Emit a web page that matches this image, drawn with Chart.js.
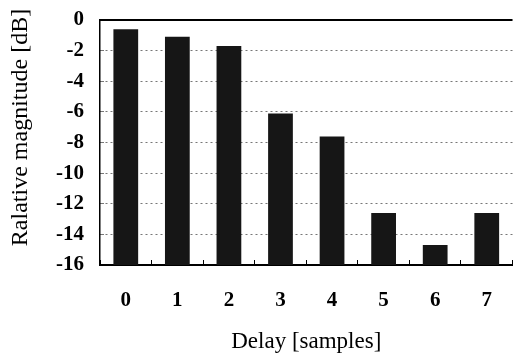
<!DOCTYPE html>
<html>
<head>
<meta charset="utf-8">
<script src="https://cdn.jsdelivr.net/npm/chart.js@4/dist/chart.umd.min.js"></script>
<style>
    html, body { margin: 0; padding: 0; background: #fff; overflow: hidden; }
    #wrap { width: 520px; height: 356px; }
</style>
</head>
<body>
<div id="wrap"><canvas id="myChart" width="520" height="356"></canvas></div>
<script>
'use strict';

// delay in samples
var delayLabels = ['0', '1', '2', '3', '4', '5', '6', '7'];
// relative magnitude in dB
var magnitudeValues = [-0.6, -1.1, -1.7, -6.1, -7.6, -12.6, -14.7, -12.6];
var yMin = -16;
var yMax = 0;

var serif = '"Liberation Serif", "Times New Roman", serif';

let chartConfig = {
    type: 'bar',
    data: {
        labels: delayLabels,
        datasets: [
            {
                label: 'Relative magnitude',
                backgroundColor: '#161616',
                borderWidth: 0,
                barPercentage: 0.48,
                categoryPercentage: 1,
                // bars rise from the bottom of the axis
                data: magnitudeValues.map(v => [yMin, v])
            }
        ]
    },
    options: {
        responsive: false,
        animation: false,
        layout: { padding: { top: 0, right: 0, left: 0, bottom: 0 } },
        plugins: {
            legend: { display: false },
            tooltip: { enabled: false }
        },
        scales: {
            x: {
                offset: true,
                grid: {
                    offset: true,
                    drawOnChartArea: false,
                    drawTicks: true,
                    tickLength: -5,
                    color: '#000',
                    lineWidth: 1
                },
                border: { color: '#000', width: 2 },
                ticks: {
                    color: '#000',
                    padding: 28,
                    font: { family: serif, size: 21, weight: 'bold' }
                },
                title: {
                    display: true,
                    text: 'Delay [samples]',
                    color: '#000',
                    padding: { top: 8, bottom: 0 },
                    font: { family: serif, size: 23 }
                },
                afterFit: function (scale) {
                    scale.height = 91;
                }
            },
            y: {
                min: yMin,
                max: yMax,
                ticks: {
                    stepSize: 2,
                    color: '#000',
                    padding: 20,
                    // zero line height keeps the tick padding from pushing the plot top down
                    font: { family: serif, size: 21, weight: 'bold', lineHeight: 0 }
                },
                grid: {
                    drawTicks: true,
                    tickLength: -4,
                    color: ctx => ctx.tick && ctx.tick.value === yMax ? '#000' : '#777',
                    lineWidth: ctx => ctx.tick && ctx.tick.value === yMax ? 2 : 1
                },
                border: {
                    color: '#000',
                    width: 1.5,
                    dash: ctx => ctx.tick && ctx.tick.value === yMax ? [] : [2, 3]
                },
                title: {
                    display: true,
                    text: '     Ralative magnitude [dB]',
                    color: '#000',
                    padding: { top: 6, bottom: 0 },
                    font: { family: serif, size: 24 }
                },
                afterFit: function (scale) {
                    scale.width = 100;
                }
            }
        }
    }
};

new Chart(document.getElementById('myChart'), chartConfig);
</script>
</body>
</html>
